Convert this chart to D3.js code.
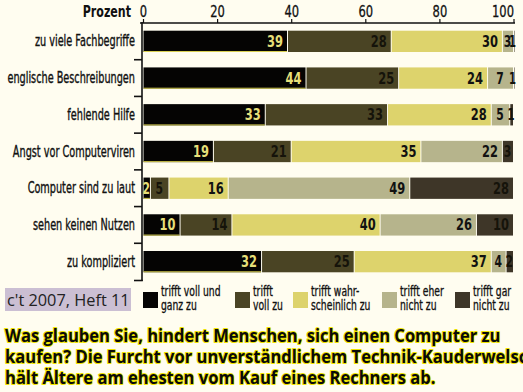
<!DOCTYPE html>
<html><head><meta charset="utf-8">
<script src="https://cdn.jsdelivr.net/npm/d3@7"></script>
<style>
html,body{margin:0;padding:0;background:#fffdf0;}
svg{display:block;}
</style></head>
<body>
<svg id="c" width="523" height="392"></svg>
<script>
const categories = ["zu viele Fachbegriffe","englische Beschreibungen","fehlende Hilfe","Angst vor Computerviren","Computer sind zu laut","sehen keinen Nutzen","zu kompliziert"];
const seriesNames = ["trifft voll und ganz zu","trifft voll zu","trifft wahrscheinlich zu","trifft eher nicht zu","trifft gar nicht zu"];
const legendLines = [["trifft voll und","ganz zu"],["trifft","voll zu"],["trifft wahr-","scheinlich zu"],["trifft eher","nicht zu"],["trifft gar","nicht zu"]];
const vollUndGanz = [39,44,33,19,2,10,32];
const voll = [28,25,33,21,5,14,25];
const wahrscheinlich = [30,24,28,35,16,40,37];
const eherNicht = [3,7,5,22,49,26,4];
const garNicht = [1,1,1,3,28,10,2];
const xTicks = [0,20,40,60,80,100];
const axisTitle = "Prozent";
const source = "c't 2007, Heft 11";
const titleLines = ["Was glauben Sie, hindert Menschen, sich einen Computer zu","kaufen? Die Furcht vor unverständlichem Technik-Kauderwelsch","hält Ältere am ehesten vom Kauf eines Rechners ab."];

const seriesVals = [vollUndGanz, voll, wahrscheinlich, eherNicht, garNicht];
const colors = ["#050403","#4a4424","#ddd36c","#b6b48c","#3e3628"];
const numColors = ["#e6df78","#15130a","#111","#111","#15130a"];

const svg = d3.select("#c");
svg.append("rect").attr("width",523).attr("height",392).attr("fill","#fffdf0");

const condFont = "'DejaVu Sans Condensed','DejaVu Sans',sans-serif";
function ctext(g, x, y, str, opts){
  const sx = opts.sx||1;
  const t = g.append("text")
    .attr("transform",`translate(${x},${y}) scale(${sx},1)`)
    .attr("font-family", opts.family||condFont)
    .attr("font-size", opts.size)
    .attr("font-weight", opts.weight||"normal")
    .attr("text-anchor", opts.anchor||"start")
    .attr("fill", opts.fill||"#111")
    .text(str);
  if(opts.bolden){ t.attr("stroke", opts.fill||"#111").attr("stroke-width", opts.bolden); }
  return t;
}

const x = d3.scaleLinear().domain([0,100]).range([143.5,514]);
const y = d3.scaleBand().domain(categories).range([23,280]).paddingInner(0.42).paddingOuter(0.21);

const table = categories.map((c,i)=>{const o={cat:c}; seriesNames.forEach((s,j)=>o[s]=seriesVals[j][i]); return o;});
const stacked = d3.stack().keys(seriesNames)(table);

const bars = svg.append("g");
stacked.forEach((layer,j)=>{
  bars.selectAll(null).data(layer).enter().append("rect")
    .attr("x",d=>x(d[0]))
    .attr("y",d=>y(d.data.cat))
    .attr("width",d=>Math.max(0,Math.min(x(d[1]),515.5)-x(d[0])-1))
    .attr("height",y.bandwidth())
    .attr("fill",colors[j]);
});
bars.selectAll(null).data(stacked[0]).enter().append("line")
  .attr("x1",d=>x(d[0])).attr("x2",d=>x(d[1])-1)
  .attr("y1",d=>y(d.data.cat)+y.bandwidth()-0.5).attr("y2",d=>y(d.data.cat)+y.bandwidth()-0.5)
  .attr("stroke","#d8cf50").attr("stroke-width",1);

const numG = svg.append("g");
stacked.forEach((layer,j)=>{
  layer.forEach(d=>{
    const v = d[1]-d[0];
    const x0 = x(d[0]), x1 = Math.min(x(d[1]),515.5);
    const w = x1-x0;
    const yy = y(d.data.cat)+y.bandwidth()/2+5.5;
    if(w < 6){
      ctext(numG, x1+0.5, yy, String(v), {size:15, weight:"bold", anchor:"end", fill:numColors[j], sx:0.75});
    } else if(w < 26){
      ctext(numG, (x0+x1)/2 - 1, yy, String(v), {size:15, weight:"bold", anchor:"middle", fill:numColors[j], sx:0.8});
    } else {
      ctext(numG, x1-5, yy, String(v), {size:15, weight:"bold", anchor:"end", fill:numColors[j], sx:0.85});
    }
  });
});

const ax = svg.append("g").attr("stroke","#111").attr("fill","none");
ax.append("line").attr("x1",140).attr("x2",515).attr("y1",23).attr("y2",23).attr("stroke-width",1.6);
ax.append("line").attr("x1",142).attr("x2",142).attr("y1",22).attr("y2",281).attr("stroke-width",1.6);
xTicks.forEach(t=>{
  ax.append("line").attr("x1",x(t)).attr("x2",x(t)).attr("y1",23).attr("y2",19).attr("stroke-width",1.2);
});
for(let k=1;k<categories.length;k++){
  const yy = 23 + k*(257/categories.length);
  ax.append("line").attr("x1",134).attr("x2",142).attr("y1",yy).attr("y2",yy).attr("stroke-width",1.6);
}
ax.append("line").attr("x1",134).attr("x2",142.8).attr("y1",280.5).attr("y2",280.5).attr("stroke-width",1.6);

const tg = svg.append("g");
xTicks.forEach(t=>{
  ctext(tg, x(t), 17, String(t), {size:16, anchor: t===100?"end":"middle", fill:"#111", sx:0.8, bolden:0.3});
});
ctext(tg, 131, 17, axisTitle, {size:15, weight:"bold", anchor:"end", fill:"#111", sx:0.82});

const lg = svg.append("g");
categories.forEach(c=>{
  ctext(lg, 135, y(c)+y.bandwidth()/2+5, c, {size:15, anchor:"end", fill:"#111", sx:0.72, bolden:0.35});
});

svg.append("rect").attr("x",5).attr("y",288).attr("width",126).attr("height",23).attr("fill","#cbbfd3");
ctext(svg, 7, 306, source, {size:17, family:"'Open Sans','DejaVu Sans',sans-serif", fill:"#222", sx:0.96});

const legX = [143,235,293,382,455];
const leg = svg.append("g");
legendLines.forEach((ls,j)=>{
  leg.append("rect").attr("x",legX[j]).attr("y",292).attr("width",15).attr("height",16).attr("fill",colors[j]);
  ls.forEach((l,k)=>{
    ctext(leg, legX[j]+18, 296+k*13.5, l, {size:13.5, fill:"#111", sx:0.76, bolden:0.3});
  });
});

const tt = svg.append("g");
titleLines.forEach((l,i)=>{
  tt.append("text")
    .attr("transform",`translate(5,${342+i*21}) scale(0.92,1)`)
    .attr("font-family","'Open Sans','DejaVu Sans',sans-serif")
    .attr("font-weight","bold").attr("font-size",18)
    .attr("fill","#0a0a0a").attr("stroke","#eee300").attr("stroke-width",2)
    .attr("paint-order","stroke").attr("stroke-linejoin","round")
    .text(l);
});
</script>
</body></html>
